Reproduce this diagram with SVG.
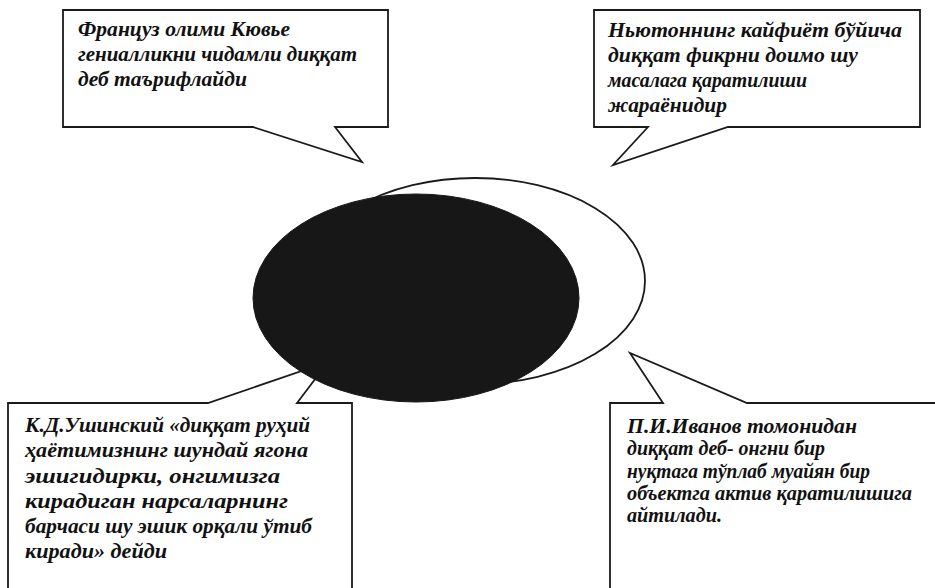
<svg xmlns="http://www.w3.org/2000/svg" width="935" height="588" viewBox="0 0 935 588">
  <style>
    .callout { fill: #ffffff; stroke: #1a1a1a; stroke-width: 1.8; stroke-linejoin: miter; }
    .txt { font-family: "Liberation Serif", "DejaVu Serif", serif; font-style: italic; font-weight: bold; font-size: 20px; fill: #111111; }
  </style>
  <rect width="935" height="588" fill="#ffffff"/>

  <g id="callout-bottom-left">
    <path class="callout" d="M8,403 H208 L328,362 L297,403 H352 V600 H8 Z"/>
    <text class="txt" x="25" y="432" textLength="285" lengthAdjust="spacingAndGlyphs">К.Д.Ушинский «диққат руҳий</text>
    <text class="txt" x="25" y="457" textLength="283" lengthAdjust="spacingAndGlyphs">ҳаётимизнинг шундай ягона</text>
    <text class="txt" x="25" y="483" textLength="255" lengthAdjust="spacingAndGlyphs">эшигидирки, онгимизга</text>
    <text class="txt" x="25" y="508" textLength="263" lengthAdjust="spacingAndGlyphs">кирадиган нарсаларнинг</text>
    <text class="txt" x="25" y="533" textLength="287" lengthAdjust="spacingAndGlyphs">барчаси шу эшик орқали ўтиб</text>
    <text class="txt" x="25" y="558" textLength="142" lengthAdjust="spacingAndGlyphs">киради» дейди</text>
  </g>

  <g id="ellipses">
    <ellipse id="outline-ellipse" cx="475" cy="281" rx="170" ry="103" fill="#ffffff" stroke="#1a1a1a" stroke-width="1.8"/>
    <ellipse id="black-ellipse" cx="416" cy="298" rx="163" ry="104" fill="#171717" stroke="#171717" stroke-width="1"/>
  </g>

  <g id="callout-top-left">
    <path class="callout" d="M63,10 H388 V127 H335 L362,162 L253,127 H63 Z"/>
    <text class="txt" x="78" y="36" textLength="212" lengthAdjust="spacingAndGlyphs">Француз олими Кювье</text>
    <text class="txt" x="78" y="61" textLength="279" lengthAdjust="spacingAndGlyphs">гениалликни чидамли диққат</text>
    <text class="txt" x="78" y="86" textLength="169" lengthAdjust="spacingAndGlyphs">деб таърифлайди</text>
  </g>

  <g id="callout-top-right">
    <path class="callout" d="M594,10 H920 V127 H728 L613,165 L648,127 H594 Z"/>
    <text class="txt" x="608" y="37" textLength="294" lengthAdjust="spacingAndGlyphs">Ньютоннинг кайфиёт бўйича</text>
    <text class="txt" x="608" y="62" textLength="250" lengthAdjust="spacingAndGlyphs">диққат фикрни доимо шу</text>
    <text class="txt" x="608" y="87" textLength="199" lengthAdjust="spacingAndGlyphs">масалага қаратилиши</text>
    <text class="txt" x="608" y="112" textLength="119" lengthAdjust="spacingAndGlyphs">жараёнидир</text>
  </g>

  <g id="callout-bottom-right">
    <path class="callout" d="M610,403 H663 L630,353 L747,403 H945 V600 H610 Z"/>
    <text class="txt" x="627" y="433" textLength="230" lengthAdjust="spacingAndGlyphs">П.И.Иванов томонидан</text>
    <text class="txt" x="627" y="455" textLength="198" lengthAdjust="spacingAndGlyphs">диққат деб- онгни бир</text>
    <text class="txt" x="627" y="478" textLength="243" lengthAdjust="spacingAndGlyphs">нуқтага тўплаб муайян бир</text>
    <text class="txt" x="627" y="500" textLength="285" lengthAdjust="spacingAndGlyphs">объектга актив қаратилишига</text>
    <text class="txt" x="627" y="522" textLength="95" lengthAdjust="spacingAndGlyphs">айтилади.</text>
  </g>
</svg>
